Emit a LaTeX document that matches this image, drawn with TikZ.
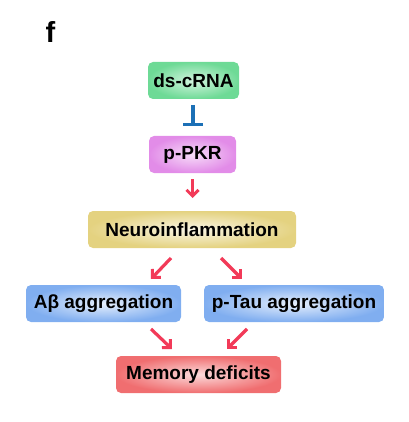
\documentclass[tikz,border=0pt]{standalone}
\usepackage{fontspec}
\setmainfont{Liberation Sans}
\usetikzlibrary{arrows.meta}
\definecolor{cgreen}{RGB}{110,218,150}
\definecolor{cpink}{RGB}{226,140,232}
\definecolor{cyellow}{RGB}{228,210,128}
\definecolor{cblue}{RGB}{128,174,240}
\definecolor{cred}{RGB}{240,110,112}
\definecolor{carrow}{RGB}{242,58,88}
\definecolor{cinhib}{RGB}{28,112,182}
\tikzset{
  box/.style={rounded corners=5pt, minimum height=37pt, inner sep=0pt, font=\fontsize{19}{22}\selectfont\bfseries, text=black},
  act/.style={draw=carrow, line width=3.2pt, -{Straight Barb[length=6pt,width=12pt,line width=3pt]}},
  inh/.style={draw=cinhib, line width=3.4pt, -{Bar[width=20pt,line width=3.4pt]}},
}
\begin{document}
\begin{tikzpicture}[x=1pt,y=-1pt]
\useasboundingbox (0,0) rectangle (408,422);
\node[font=\fontsize{29}{32}\selectfont\bfseries, anchor=base] (lab) at (50.5,43) {f};
\node[box, minimum width=91pt, inner color=white!70!cgreen, outer color=cgreen] (ds) at (193.5,80.5) {ds-cRNA};
\node[box, minimum width=87pt, inner color=white!70!cpink, outer color=cpink] (pkr) at (192.5,154.5) {p-PKR};
\node[box, minimum width=208pt, inner color=white!80!cyellow, outer color=cyellow] (neu) at (192,229.5) {Neuroinflammation};
\node[box, minimum width=155pt, inner color=white!80!cblue, outer color=cblue] (ab) at (103.5,303.5) {Aβ aggregation};
\node[box, minimum width=180pt, inner color=white!80!cblue, outer color=cblue] (tau) at (294,303.5) {p-Tau aggregation};
\node[box, minimum width=165pt, inner color=white!75!cred, outer color=cred] (mem) at (198.5,374.5) {Memory deficits};
\coordinate (i1) at (193,105);
\coordinate (i2) at (193,126);
\draw[inh] (i1) -- (i2);
\coordinate (a1s) at (192.5,179);
\coordinate (a1e) at (192.5,198);
\draw[act] (a1s) -- (a1e);
\coordinate (a2s) at (171,258);
\coordinate (a2e) at (151,279);
\draw[act] (a2s) -- (a2e);
\coordinate (a3s) at (221,258);
\coordinate (a3e) at (242,279);
\draw[act] (a3s) -- (a3e);
\coordinate (a4s) at (151,329);
\coordinate (a4e) at (172,349);
\draw[act] (a4s) -- (a4e);
\coordinate (a5s) at (247,329);
\coordinate (a5e) at (227,349);
\draw[act] (a5s) -- (a5e);
\end{tikzpicture}
\end{document}
